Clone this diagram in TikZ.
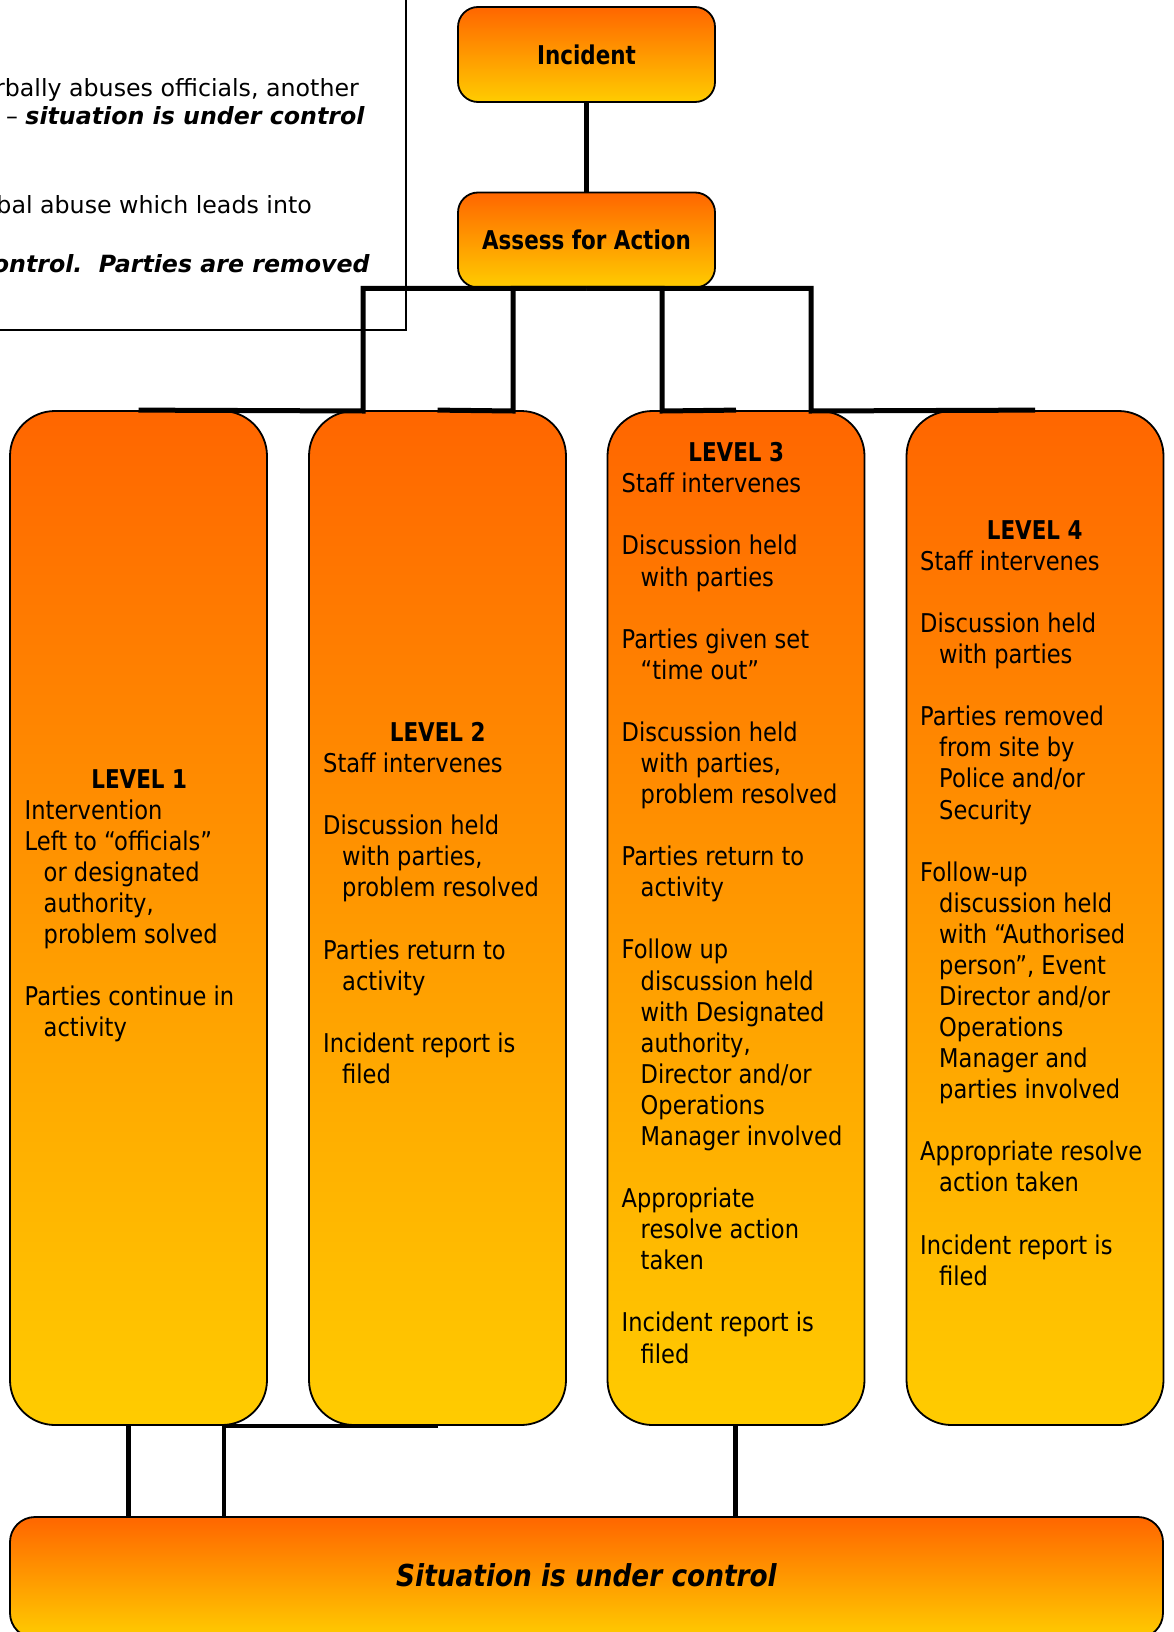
\documentclass[tikz,border=0pt]{standalone}
\usepackage{fontspec}
\setmainfont{DejaVu Sans}
\newfontfamily\tah[FakeStretch=0.873,BoldFeatures={FakeStretch=0.83}]{DejaVu Sans}
\definecolor{orTop}{RGB}{255,102,0}
\definecolor{orBot}{RGB}{255,204,0}
\newcommand\lnA[1]{\hbox{#1}}
\newcommand\lnI[1]{\hbox{\hspace*{19pt}#1}}
\newcommand\lnB{\hbox{}}
\newcommand\lnLv[1]{\hbox to 229pt{\hfil\bfseries #1\hfil}}
\begin{document}
\begin{tikzpicture}[x=1pt,y=-1pt,
  box/.style={draw, line width=1.8pt, top color=orTop, bottom color=orBot, inner sep=0pt},
  lvl/.style={box, rounded corners=45pt, minimum width=257pt, minimum height=1014pt},
  small/.style={box, rounded corners=20pt, minimum width=257pt, minimum height=95pt,
    font=\tah\fontsize{25.85}{31}\selectfont\bfseries},
  conn/.style={line width=5pt},
  txt/.style={inner sep=0pt, anchor=base west, font=\tah\fontsize{25.85}{31.08}\selectfont},
  note/.style={inner sep=0pt, anchor=base east, font=\fontsize{23.7}{29}\selectfont}
]
\useasboundingbox (0,0) rectangle (1173,1632);
\clip (0,0) rectangle (1173,1632);
\fill[white] (0,0) rectangle (1173,1632);

% clipped note box at top left
\draw[line width=1.3pt] (-5,-5) rectangle (406,330);
\node[note] (n1) at (359,96.7) {rbally abuses officials, another};
\node[note] (n2) at (365,125) {– \textbf{\textit{situation is under control}}};
\node[note] (n3) at (312,213) {bal abuse which leads into};
\node[note] (n4) at (370,272) {\textbf{\textit{ontrol.\ \ Parties are removed}}};

% top boxes
\node[small] (inc) at (586.5,54.5) {Incident};
\node[small] (as) at (586.5,240) {Assess for Action};

% level boxes
\node[lvl] (l1) at (138.5,918) {};
\node[lvl] (l2) at (437.5,918) {};
\node[lvl] (l3) at (736,918) {};
\node[lvl] (l4) at (1035,918) {};

% bottom box
\node[box, rounded corners=25pt, minimum width=1153pt, minimum height=121pt] (sit) at (586.5,1577.5) {};
\node[inner sep=0pt, anchor=base, font=\tah\fontsize{30.2}{36}\selectfont\bfseries\itshape] (st) at (586.5,1586.7) {Situation is under control};

% texts
\node[txt] (t1) at (24.5,788.3) {\vtop{\baselineskip=31.08pt
\lnLv{LEVEL 1}
\lnA{Intervention}
\lnA{Left to “officials”}
\lnI{or designated}
\lnI{authority,}
\lnI{problem solved}
\lnB
\lnA{Parties continue in}
\lnI{activity}}};

\node[txt] (t2) at (323,741.5) {\vtop{\baselineskip=31.08pt
\lnLv{LEVEL 2}
\lnA{Staff intervenes}
\lnB
\lnA{Discussion held}
\lnI{with parties,}
\lnI{problem resolved}
\lnB
\lnA{Parties return to}
\lnI{activity}
\lnB
\lnA{Incident report is}
\lnI{filed}}};

\node[txt] (t3) at (621.5,461.7) {\vtop{\baselineskip=31.08pt
\lnLv{LEVEL 3}
\lnA{Staff intervenes}
\lnB
\lnA{Discussion held}
\lnI{with parties}
\lnB
\lnA{Parties given set}
\lnI{“time out”}
\lnB
\lnA{Discussion held}
\lnI{with parties,}
\lnI{problem resolved}
\lnB
\lnA{Parties return to}
\lnI{activity}
\lnB
\lnA{Follow up}
\lnI{discussion held}
\lnI{with Designated}
\lnI{authority,}
\lnI{Director and/or}
\lnI{Operations}
\lnI{Manager involved}
\lnB
\lnA{Appropriate}
\lnI{resolve action}
\lnI{taken}
\lnB
\lnA{Incident report is}
\lnI{filed}}};

\node[txt] (t4) at (920,539.3) {\vtop{\baselineskip=31.08pt
\lnLv{LEVEL 4}
\lnA{Staff intervenes}
\lnB
\lnA{Discussion held}
\lnI{with parties}
\lnB
\lnA{Parties removed}
\lnI{from site by}
\lnI{Police and/or}
\lnI{Security}
\lnB
\lnA{Follow-up}
\lnI{discussion held}
\lnI{with “Authorised}
\lnI{person”, Event}
\lnI{Director and/or}
\lnI{Operations}
\lnI{Manager and}
\lnI{parties involved}
\lnB
\lnA{Appropriate resolve}
\lnI{action taken}
\lnB
\lnA{Incident report is}
\lnI{filed}}};

% connectors
\draw[conn] (inc.south) -- (as.north);
\coordinate (k1) at (363,411);
\coordinate (k2) at (513,411);
\coordinate (k3) at (662,411);
\coordinate (k4) at (811,411);
\draw[conn] (as.south) -| (k1) -- (l1.north);
\draw[conn] (as.south) -| (k2) -- (l2.north);
\draw[conn] (as.south) -| (k3) -- (l3.north);
\draw[conn] (as.south) -| (k4) -- (l4.north);

\coordinate (b1) at ([xshift=-10.5pt]l1.south);
\draw[conn] (b1) -- (b1 |- sit.north);
\coordinate (b2) at (224,0);
\draw[line width=4.5pt] (l2.south) -| (b2 |- sit.north);
\coordinate (b3) at ([xshift=-1pt]l3.south);
\draw[conn] (b3) -- (b3 |- sit.north);
\end{tikzpicture}
\end{document}
